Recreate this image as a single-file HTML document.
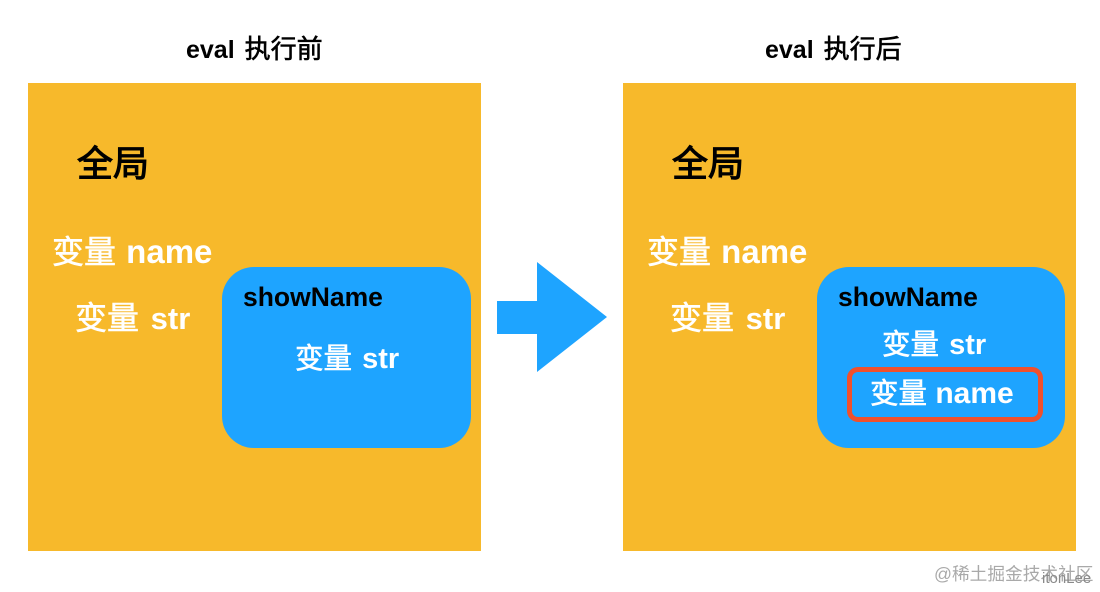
<!DOCTYPE html>
<html><head><meta charset="utf-8"><style>
html,body{margin:0;padding:0;background:#fff}
#c{position:relative;width:1100px;height:592px;overflow:hidden;background:#fff;font-family:"Liberation Sans","Noto Sans CJK SC",sans-serif;font-weight:bold}
.a{position:absolute}
.t{position:absolute;white-space:nowrap;line-height:1}
.w{color:#fff}
.c{font-family:"Noto Sans CJK SC",sans-serif;font-weight:normal;-webkit-text-stroke:.6px currentColor}
.k{font-size:32px;margin-right:1px}
.s{font-size:28.5px}
.h{font-size:26px;margin-left:3px}
.g{-webkit-text-stroke:1.1px currentColor}
</style></head><body><div id="c">
<div class="a" style="left:28px;top:83px;width:453px;height:468px;background:#f7b92b"></div>
<div class="a" style="left:623px;top:83px;width:453px;height:468px;background:#f7b92b"></div>
<div class="a" style="left:222px;top:267px;width:249px;height:181px;border-radius:32px;background:#1ea4ff"></div>
<div class="a" style="left:817px;top:267px;width:248px;height:181px;border-radius:32px;background:#1ea4ff"></div>
<div class="a" style="left:847px;top:367px;width:196px;height:55px;box-sizing:border-box;border:5px solid #f0502d;border-radius:11px"></div>
<svg class="a" style="left:0;top:0" width="1100" height="592"><polygon points="497,301 537,301 537,262 607,317 537,372 537,334 497,334" fill="#1ea4ff"/></svg>

<div class="t" style="left:186px;top:35px;font-size:25px">eval <span class="c h">执行前</span></div>
<div class="t" style="left:765px;top:35px;font-size:25px">eval <span class="c h">执行后</span></div>

<div class="t c g" style="left:77px;top:143px;font-size:36px">全局</div>
<div class="t c g" style="left:672px;top:143px;font-size:36px">全局</div>

<div class="t w" style="left:52px;top:234px;font-size:33px"><span class="c k">变量</span> name</div>
<div class="t w" style="left:75px;top:300px;font-size:31px"><span class="c k" style="margin-right:3px">变量</span> str</div>
<div class="t" style="left:243px;top:284px;font-size:26.5px">showName</div>
<div class="t w" style="left:295px;top:343px;font-size:29px"><span class="c s" style="margin-right:2px">变量</span> str</div>

<div class="t w" style="left:647px;top:234px;font-size:33px"><span class="c k">变量</span> name</div>
<div class="t w" style="left:670px;top:300px;font-size:31px"><span class="c k" style="margin-right:3px">变量</span> str</div>
<div class="t" style="left:838px;top:284px;font-size:26.5px">showName</div>
<div class="t w" style="left:882px;top:329px;font-size:29px"><span class="c s" style="margin-right:2px">变量</span> str</div>
<div class="t w" style="left:870px;top:378px;font-size:30px"><span class="c s">变量</span> name</div>

<div class="t" style="left:934px;top:566px;font-size:17.7px;font-weight:normal;color:#a9a9a9">@稀土掘金技术社区</div>
<div class="t" style="left:1042px;top:571px;font-size:15px;font-weight:normal;color:#8a8a8a">itonLee</div>
</div></body></html>
